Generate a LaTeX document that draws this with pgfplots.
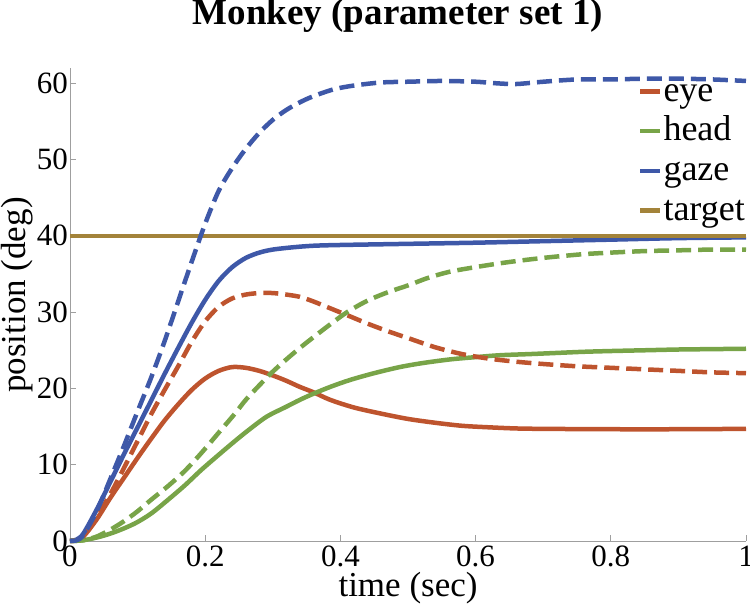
\documentclass[border=0pt]{standalone}
\usepackage{fontspec}
\setmainfont{Liberation Serif}
\usepackage{pgfplots}
\pgfplotsset{compat=1.18}
\definecolor{eyec}{RGB}{190,84,46}
\definecolor{headc}{RGB}{120,164,72}
\definecolor{gazec}{RGB}{62,88,168}
\definecolor{targc}{RGB}{163,131,58}
\begin{document}
\begin{tikzpicture}
\begin{axis}[
  at={(0pt,0pt)}, anchor=south west,
  scale only axis, width=676pt, height=473pt,
  xmin=0, xmax=1, ymin=0, ymax=62,
  axis x line*=bottom, axis y line*=left,
  axis line style={gray!75, line width=0.8pt},
  tick style={gray!75, line width=0.8pt},
  major tick length=6pt, tick align=inside,
  xtick={0,0.2,0.4,0.6,0.8,1}, ytick={0,10,20,30,40,50,60},
  xticklabels={0,0.2,0.4,0.6,0.8,1},
  /pgf/number format/assume math mode=true,
  ticklabel style={font=\fontsize{31}{31}\selectfont},
  yticklabel style={inner xsep=2pt},
  xticklabel style={inner ysep=2pt, yshift=-3pt},
  title={\textbf{Monkey (parameter set 1)}},
  title style={font=\fontsize{37}{40}\selectfont, at={(axis description cs:0.485,1.0803)}, anchor=base},
  xlabel={time (sec)},
  xlabel style={font=\fontsize{35}{35}\selectfont, at={(axis description cs:0.5,-0.1184)}, anchor=base},
  ylabel={position (deg)},
  ylabel style={font=\fontsize{35}{35}\selectfont, at={(axis description cs:-0.0665,0.52)}, anchor=base},
  clip=false,
  every axis plot/.append style={line width=4.5pt, smooth},
  legend cell align=left,
  legend image code/.code={\draw[#1, solid, line width=4.5pt] (0pt,0.27em) -- (20pt,0.27em);},
  legend style={draw=none, fill=none, inner sep=0pt, at={(axis description cs:1,0.977)}, anchor=north east,
    font=\fontsize{36}{36}\selectfont, row sep=9.7pt,
    nodes={inner ysep=0pt, inner xsep=1pt, text height=22pt, text depth=8pt}},
]
% eye solid
\addplot[eyec] coordinates {
(0,0)(0.01,0.1)(0.02,0.6)(0.04,2.9)(0.06,5.7)(0.08,8.3)(0.10,10.9)(0.12,13.4)(0.14,15.8)(0.16,17.9)(0.18,19.8)(0.20,21.3)(0.22,22.3)(0.24,22.8)(0.26,22.7)(0.28,22.3)(0.30,21.7)(0.32,21.0)(0.34,20.2)(0.36,19.5)(0.385,18.5)(0.42,17.5)(0.46,16.7)(0.50,16.0)(0.54,15.5)(0.58,15.1)(0.62,14.9)(0.66,14.75)(0.70,14.7)(0.80,14.65)(0.90,14.65)(1.00,14.7)};
\addlegendentry{eye}
% head solid
\addplot[headc] coordinates {
(0,0)(0.02,0.1)(0.046,0.6)(0.07,1.3)(0.096,2.3)(0.12,3.6)(0.145,5.4)(0.17,7.3)(0.194,9.3)(0.22,11.3)(0.244,13.1)(0.265,14.6)(0.291,16.3)(0.32,17.6)(0.34,18.5)(0.36,19.3)(0.385,20.2)(0.414,21.1)(0.45,22.0)(0.488,22.8)(0.52,23.3)(0.562,23.8)(0.60,24.1)(0.636,24.35)(0.68,24.5)(0.72,24.65)(0.76,24.8)(0.80,24.9)(0.85,25.0)(0.90,25.1)(0.95,25.15)(1.00,25.2)};
\addlegendentry{head}
% gaze solid
\addplot[gazec] coordinates {
(0,0)(0.01,0.2)(0.02,1.0)(0.04,4.2)(0.06,7.8)(0.08,11.4)(0.10,14.9)(0.12,18.4)(0.14,21.9)(0.16,25.3)(0.18,28.6)(0.20,31.6)(0.22,34.1)(0.24,35.9)(0.26,37.1)(0.28,37.8)(0.30,38.2)(0.33,38.5)(0.36,38.7)(0.40,38.8)(0.50,38.95)(0.60,39.1)(0.70,39.3)(0.80,39.5)(0.90,39.7)(1.00,39.8)};
\addlegendentry{gaze}
% target
\addplot[targc, sharp plot] coordinates {(0,40)(1,40)};
\addlegendentry{target}
% eye dashed
\addplot[eyec, dash pattern=on 15pt off 7pt, forget plot] coordinates {
(0,0)(0.01,0.1)(0.02,0.5)(0.04,3.2)(0.06,6.2)(0.08,9.6)(0.10,13.1)(0.12,16.6)(0.14,19.8)(0.16,22.9)(0.18,26.1)(0.20,28.8)(0.22,30.7)(0.24,31.8)(0.26,32.3)(0.28,32.5)(0.30,32.5)(0.32,32.3)(0.34,32.0)(0.36,31.4)(0.385,30.5)(0.41,29.6)(0.44,28.5)(0.47,27.5)(0.50,26.6)(0.54,25.4)(0.58,24.5)(0.62,23.9)(0.66,23.5)(0.70,23.2)(0.75,22.9)(0.80,22.7)(0.85,22.5)(0.90,22.3)(0.95,22.1)(1.00,22.0)};
% head dashed
\addplot[headc, dash pattern=on 15pt off 7pt, forget plot] coordinates {
(0,0)(0.02,0.1)(0.04,0.6)(0.06,1.5)(0.08,2.6)(0.10,3.9)(0.12,5.4)(0.145,7.2)(0.17,9.2)(0.194,11.5)(0.22,14.2)(0.244,16.7)(0.26,18.5)(0.28,20.4)(0.30,22.2)(0.32,23.8)(0.34,25.3)(0.36,26.7)(0.385,28.4)(0.41,30.0)(0.44,31.5)(0.47,32.6)(0.50,33.5)(0.53,34.5)(0.562,35.3)(0.60,35.9)(0.636,36.4)(0.67,36.8)(0.71,37.2)(0.76,37.6)(0.80,37.8)(0.85,38.0)(0.90,38.1)(0.95,38.2)(1.00,38.2)};
% gaze dashed
\addplot[gazec, dash pattern=on 15pt off 7pt, forget plot] coordinates {
(0,0)(0.01,0.1)(0.02,0.8)(0.04,4.0)(0.06,8.2)(0.08,12.5)(0.10,17.0)(0.12,21.4)(0.14,26.2)(0.16,31.4)(0.18,36.6)(0.20,41.6)(0.22,45.9)(0.24,48.9)(0.26,51.4)(0.28,53.5)(0.30,55.2)(0.32,56.5)(0.34,57.5)(0.36,58.3)(0.39,59.2)(0.42,59.7)(0.46,60.1)(0.50,60.2)(0.55,60.3)(0.60,60.2)(0.63,60.0)(0.66,59.9)(0.70,60.2)(0.75,60.5)(0.80,60.5)(0.85,60.6)(0.90,60.6)(0.95,60.5)(1.00,60.3)};
\end{axis}
\pgfresetboundingbox
\path[use as bounding box] (-70pt,-68pt) rectangle (680pt,541pt);
\end{tikzpicture}
\end{document}
